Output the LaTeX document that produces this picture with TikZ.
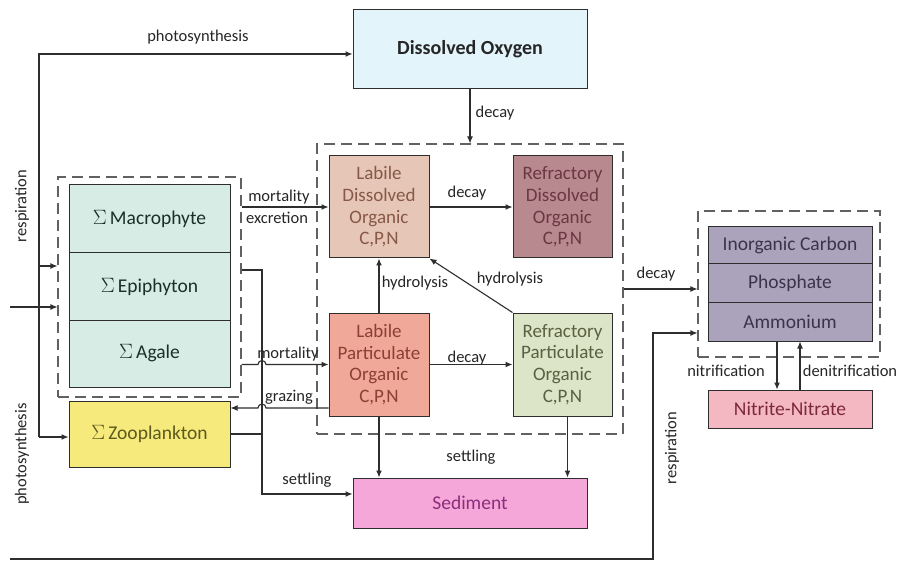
\documentclass[tikz,border=0pt]{standalone}
\usepackage{fontspec}
\setmainfont{Carlito}
\usetikzlibrary{arrows.meta,calc}

\definecolor{doFill}{HTML}{E3F4FA}
\definecolor{algFill}{HTML}{D6ECE4}
\definecolor{algText}{HTML}{1E2E2A}
\definecolor{zooFill}{HTML}{F6EA7C}
\definecolor{zooText}{HTML}{5C5A1E}
\definecolor{ldoFill}{HTML}{E6C6B6}
\definecolor{ldoText}{HTML}{875848}
\definecolor{rdoFill}{HTML}{B88A90}
\definecolor{rdoText}{HTML}{6A3840}
\definecolor{lpoFill}{HTML}{F0A899}
\definecolor{lpoText}{HTML}{8A4034}
\definecolor{rpoFill}{HTML}{DDE5C8}
\definecolor{rpoText}{HTML}{5A6040}
\definecolor{sedFill}{HTML}{F4A7D8}
\definecolor{sedText}{HTML}{8C2E7C}
\definecolor{nutFill}{HTML}{ABA3BB}
\definecolor{nutText}{HTML}{3A3448}
\definecolor{nitFill}{HTML}{F4B8C2}
\definecolor{nitText}{HTML}{7C2A38}
\definecolor{lineC}{HTML}{2E2E2E}

\tikzset{
  box/.style={draw=lineC, line width=1pt, inner sep=0pt, align=center},
  group/.style={draw=black!62, line width=1.1pt, dash pattern=on 11pt off 6pt},
  arr/.style={draw=lineC, line width=1.1pt, -{Latex[length=7pt,width=6pt]}},
  wire/.style={draw=lineC, line width=1.1pt},
  lbl/.style={font=\fontsize{16.5}{18}\selectfont, text=black!85, inner sep=0pt},
  bigtxt/.style={font=\fontsize{19.5}{22}\selectfont},
  orgtxt/.style={font=\fontsize{19}{21.7}\selectfont},
}

\begin{document}
\begin{tikzpicture}[x=1pt,y=-1pt]
\useasboundingbox (0,0) rectangle (902,561);
\fill[white] (0,0) rectangle (902,561);

% ---------- boxes ----------
\node[box, fill=doFill, minimum width=234pt, minimum height=79pt,
      font=\fontsize{20}{22}\selectfont\bfseries, text=black!85] (do) at (470,49.5) {Dissolved Oxygen};

% primary producers
\node[group, minimum width=183pt, minimum height=220pt] (alg) at (149.5,287) {};
\node[box, bigtxt, fill=algFill, text=algText, minimum width=161pt, minimum height=68pt] (mac) at (149.5,219) {$\Sigma$\,Macrophyte};
\node[box, bigtxt, fill=algFill, text=algText, minimum width=161pt, minimum height=67pt] (epi) at (149.5,286.5) {$\Sigma$\,Epiphyton};
\node[box, bigtxt, fill=algFill, text=algText, minimum width=161pt, minimum height=67pt] (aga) at (149.5,353.5) {$\Sigma$\,Agale};
\node[box, bigtxt, fill=zooFill, text=zooText, minimum width=161pt, minimum height=66pt] (zoo) at (149.5,434) {$\Sigma$\,Zooplankton};

% organic matter pools
\node[group, minimum width=306pt, minimum height=290pt] (org) at (470,289) {};
\node[box, orgtxt, fill=ldoFill, text=ldoText, minimum width=100pt, minimum height=102pt] (ldo) at (379,207) {Labile\\Dissolved\\Organic\\C,P,N};
\node[box, orgtxt, fill=rdoFill, text=rdoText, minimum width=99pt, minimum height=102pt] (rdo) at (562.5,207) {Refractory\\Dissolved\\Organic\\C,P,N};
\node[box, orgtxt, fill=lpoFill, text=lpoText, minimum width=100pt, minimum height=103pt] (lpo) at (379,364.5) {Labile\\Particulate\\Organic\\C,P,N};
\node[box, orgtxt, fill=rpoFill, text=rpoText, minimum width=99pt, minimum height=103pt] (rpo) at (562.5,364.5) {Refractory\\Particulate\\Organic\\C,P,N};

\node[box, bigtxt, fill=sedFill, text=sedText, minimum width=234pt, minimum height=50pt] (sed) at (470,503) {Sediment};

% inorganic nutrients
\node[group, minimum width=182pt, minimum height=146pt] (nutg) at (789,284) {};
\node[box, bigtxt, fill=nutFill, text=nutText, minimum width=164pt, minimum height=37pt] (nic) at (790,245.5) {Inorganic Carbon};
\node[box, bigtxt, fill=nutFill, text=nutText, minimum width=164pt, minimum height=39pt] (nph) at (790,283.5) {Phosphate};
\node[box, bigtxt, fill=nutFill, text=nutText, minimum width=164pt, minimum height=38pt] (nam) at (790,322) {Ammonium};
\node[box, bigtxt, fill=nitFill, text=nitText, minimum width=164pt, minimum height=38pt] (nit) at (790,409) {Nitrite-Nitrate};

% ---------- helper coordinates ----------
\coordinate (loopTop) at (39,54);
\coordinate (loopBot) at (39,437);
\coordinate (tapA) at (39,266);
\coordinate (inflow) at (10,307);
\coordinate (sTop) at (262,270);
\coordinate (resStart) at (10,559);
\coordinate (resCorner) at (653,559);

% ---------- connectors ----------
% photosynthesis / respiration loop
\draw[arr] (loopBot) -- (loopTop) -- (loopTop -| do.west);
\draw[arr] (tapA) -- (tapA -| alg.west);
\draw[arr] (loopBot) -- (loopBot -| zoo.west);
\draw[arr] (inflow) -- (inflow -| alg.west);

% decay from dissolved oxygen
\draw[arr] (do.south) -- (do.south |- org.north);

% mortality / excretion
\draw[arr] (alg.east |- ldo.west) -- (ldo.west);

% settling of producers and zooplankton
\draw[arr] (sTop -| alg.east) -- (sTop) |- ($(sed.west)+(0,-9)$);
\draw[wire] (zoo.east) -- (zoo.east -| sTop);

% mortality of algae (hops over the settling line)
\coordinate (morA) at (alg.east |- lpo.west);
\draw[arr] (morA) -- ($(morA -| sTop)+(-4,0)$) arc[start angle=180,end angle=0,radius=4pt] -- (lpo.west);

% grazing (hops over the settling line)
\coordinate (grzA) at ($(lpo.west)+(0,43.5)$);
\draw[arr] (grzA) -- ($(grzA -| sTop)+(4,0)$) arc[start angle=0,end angle=180,radius=4pt] -- (grzA -| zoo.east);

% transformations inside the organic pool
\draw[arr] (ldo.east) -- (rdo.west);
\draw[arr] (lpo.east) -- (rpo.west);
\draw[arr] (lpo.north) -- (ldo.south);
\draw[arr] (rpo.north west) -- (ldo.south east);

% settling of particulates
\draw[arr] (lpo.south) -- (lpo.south |- sed.north);
\draw[arr] ([xshift=5pt]rpo.south) -- ([xshift=5pt]rpo.south |- sed.north);

% decay into nutrients
\draw[arr] (org.east) -- (org.east -| nutg.west);

% respiration into nutrients
\draw[arr] (resStart) -- (resCorner) |- ($(nutg.west)+(0,49)$);

% nitrification / denitrification
\draw[arr] ([xshift=-13pt]nam.south) -- ([xshift=-13pt]nit.north);
\draw[arr] ([xshift=10pt]nit.north) -- ([xshift=10pt]nam.south);

% ---------- labels ----------
\node[lbl] (lPhotoTop) at (198,37) {photosynthesis};
\node[lbl, rotate=90] (lRespL) at (22,206) {respiration};
\node[lbl, rotate=90] (lPhotoL) at (22,454) {photosynthesis};
\node[lbl] (lDecayDO) at (495,113) {decay};
\node[lbl] (lMort1) at (279,197) {mortality};
\node[lbl] (lExcr) at (277,218) {excretion};
\node[lbl] (lMort2) at (288,354) {mortality};
\node[lbl] (lGraz) at (289,397) {grazing};
\node[lbl] (lSettleL) at (307,480) {settling};
\node[lbl] (lDecay1) at (467,193) {decay};
\node[lbl] (lHyd1) at (415,283) {hydrolysis};
\node[lbl] (lHyd2) at (510,279) {hydrolysis};
\node[lbl] (lDecay2) at (467,358) {decay};
\node[lbl] (lSettleM) at (471,457) {settling};
\node[lbl] (lDecayR) at (656,274) {decay};
\node[lbl] (lNitr) at (726,371) {nitrification};
\node[lbl] (lDenitr) at (850,371) {denitrification};
\node[lbl, rotate=90] (lRespR) at (672,448) {respiration};
\end{tikzpicture}
\end{document}
